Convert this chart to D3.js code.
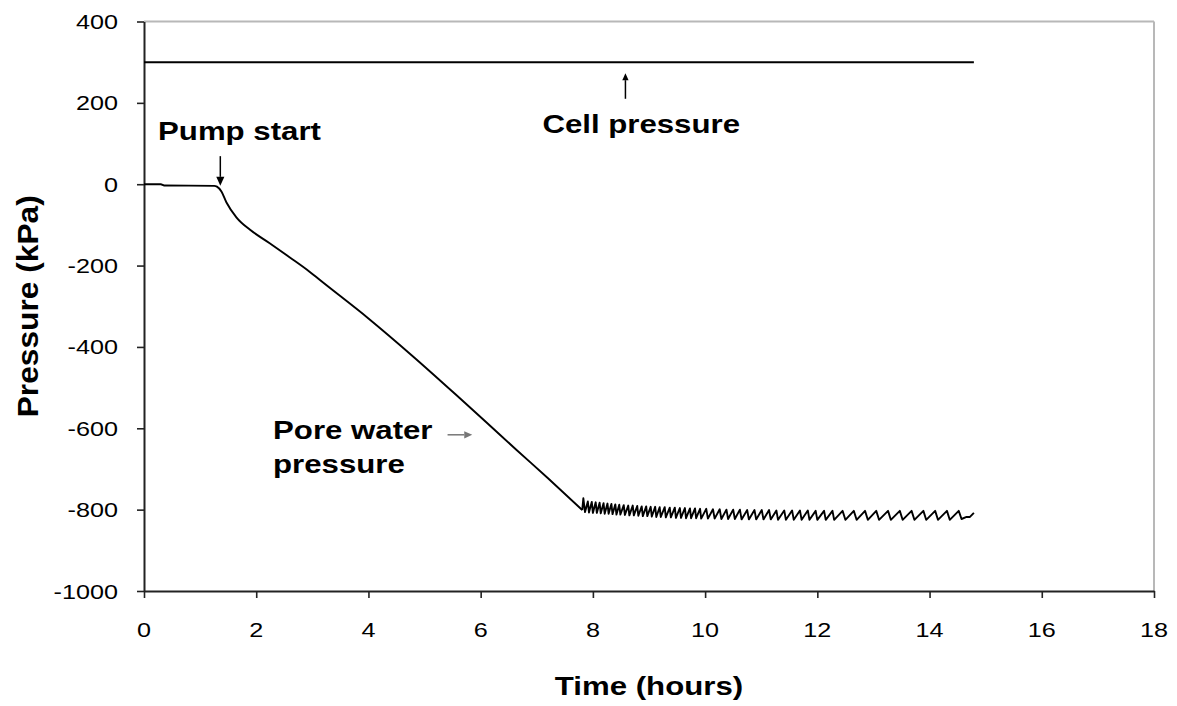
<!DOCTYPE html>
<html><head><meta charset="utf-8">
<script src="https://cdn.jsdelivr.net/npm/d3@7"></script>
<style>
body{margin:0;background:#fff}
text{font-family:"Liberation Sans",Arial,sans-serif;fill:#000}
</style>
</head><body>
<svg id="c" width="1177" height="706"></svg>
<script>
// ---------- data ----------
const xTicks = [0,2,4,6,8,10,12,14,16,18];
const yTicks = [-1000,-800,-600,-400,-200,0,200,400];

const cellTime = [0, 14.79];
const cellPressure = [300, 300];

// pore water pressure: initial ramp after pump start
const rampTime = [0, 0.3, 0.36, 1.25, 1.3, 1.38, 1.47, 1.65, 1.89, 2.24, 2.6, 2.95, 3.13, 4.0, 4.8, 5.62, 6.1, 6.63, 7.2, 7.81];
const rampPressure = [0, 0, -3, -4, -6, -18, -45, -82, -112, -145, -180, -215, -235, -330, -424, -525, -585, -652, -723, -801];

// pore water pressure: pump-controlled oscillation around -810 kPa
const sawTime = [
 7.81,7.83,7.86,7.91,7.93,7.98,8.00,8.05,8.07,8.12,8.14,8.19,8.21,8.26,8.28,8.33,8.35,8.40,8.42,8.47,8.49,
 8.55,8.57,8.63,8.65,8.71,8.73,8.79,8.81,8.87,8.89,8.95,8.97,9.03,9.05,9.11,9.13,9.19,9.21,9.28,9.30,
 9.37,9.39,9.46,9.48,9.55,9.57,9.64,9.66,9.73,9.75,9.82,9.84,9.91,9.93,
 10.02,10.05,10.14,10.17,10.26,10.29,10.38,10.41,10.50,10.53,10.62,10.65,10.75,10.78,10.88,10.91,
 11.01,11.04,11.14,11.17,11.27,11.30,11.41,11.44,11.55,11.58,11.69,11.72,11.83,11.86,11.97,12.00,
 12.12,12.15,12.27,12.30,
 12.45,12.50,12.65,12.70,12.85,12.90,13.05,13.10,13.26,13.31,13.47,13.52,13.68,13.73,13.89,13.94,
 14.10,14.15,14.31,14.36,14.52,14.57,14.66,14.72,14.79];
const sawPressure = [
 -801,-772,-806,-780,-807,-781,-808,-782,-808,-783,-809,-784,-810,-785,-810,-786,-811,-787,-812,-788,-812,
 -789,-813,-790,-814,-790,-814,-791,-815,-792,-816,-792,-816,-793,-817,-793,-818,-794,-818,-794,-819,
 -795,-819,-795,-820,-796,-820,-796,-821,-797,-821,-797,-821,-798,-822,
 -798,-822,-799,-822,-799,-823,-800,-823,-800,-823,-800,-824,-801,-824,-801,-824,
 -801,-824,-801,-824,-802,-825,-802,-825,-802,-825,-802,-825,-802,-825,-803,-825,
 -803,-825,-803,-825,
 -803,-825,-803,-825,-803,-825,-803,-825,-803,-825,-803,-825,-803,-825,-803,-825,
 -803,-825,-803,-825,-803,-823,-818,-818,-808];

// annotations (data coordinates)
const labels = [
  {text:"Pump start",   t:0.25, p:109},
  {text:"Cell pressure",t:7.10, p:126},
  {text:"Pore water",   t:2.30, p:-626},
  {text:"pressure",     t:2.30, p:-709}
];
const arrows = [
  {t1:1.36, p1:69,   t2:1.36, p2:-4,   color:"#000", head:9},
  {t1:8.58, p1:210,  t2:8.58, p2:273,  color:"#000", head:7},
  {t1:5.41, p1:-616, t2:5.85, p2:-616, color:"#777", head:8}
];

// ---------- chart ----------
const svg = d3.select("#c");
const x = d3.scaleLinear().domain([0,18]).range([144,1154]);
const y = d3.scaleLinear().domain([-1000,400]).range([591,21.5]);
const SX = 1.2; // horizontal text stretch of the original

// frame: grey top/right
svg.append("line").attr("x1",x(0)).attr("x2",x(18)).attr("y1",y(400)).attr("y2",y(400))
  .attr("stroke","#b8b8b8").attr("stroke-width",2);
svg.append("line").attr("x1",x(18)).attr("x2",x(18)).attr("y1",y(400)).attr("y2",y(-1000))
  .attr("stroke","#b8b8b8").attr("stroke-width",2);

// axes
const gx = svg.append("g").attr("transform",`translate(0,${y(-1000)})`)
  .call(d3.axisBottom(x).tickValues(xTicks).tickSize(7).tickSizeOuter(0).tickFormat(""));
const gy = svg.append("g").attr("transform",`translate(${x(0)},0)`)
  .call(d3.axisLeft(y).tickValues(yTicks).tickSize(7).tickSizeOuter(0).tickFormat(""));
[gx,gy].forEach(g=>{
  g.select(".domain").attr("stroke","#222").attr("stroke-width",2);
  g.selectAll(".tick line").attr("stroke","#222").attr("stroke-width",1.6);
});

// tick labels
svg.selectAll(".xl").data(xTicks).enter().append("text")
  .attr("transform",d=>`translate(${x(d)},637) scale(${SX},1)`)
  .attr("text-anchor","middle").style("font-size","21px").text(d=>d);
svg.selectAll(".yl").data(yTicks).enter().append("text")
  .attr("transform",d=>`translate(118,${y(d)+7.5}) scale(${SX},1)`)
  .attr("text-anchor","end").style("font-size","21px").text(d=>d);

// axis titles
svg.append("text").attr("transform",`translate(${(x(0)+x(18))/2},695) scale(${SX},1)`)
  .attr("text-anchor","middle").style("font-size","26px").style("font-weight","bold")
  .text("Time (hours)");
svg.append("text").attr("transform",`translate(38,${(y(400)+y(-1000))/2}) rotate(-90) scale(1.22,1.15)`)
  .attr("text-anchor","middle").style("font-size","26px").style("font-weight","bold")
  .text("Pressure (kPa)");

// series
const cell = d3.zip(cellTime, cellPressure);
const ramp = d3.zip(rampTime, rampPressure);
const saw = d3.zip(sawTime, sawPressure);
const lineLin = d3.line().x(d=>x(d[0])).y(d=>y(d[1]));
const lineSmooth = d3.line().x(d=>x(d[0])).y(d=>y(d[1])).curve(d3.curveMonotoneX);
svg.append("path").datum(cell).attr("d",lineLin).attr("fill","none")
  .attr("stroke","#000").attr("stroke-width",2);
svg.append("path").datum(ramp).attr("d",lineSmooth).attr("fill","none")
  .attr("stroke","#000").attr("stroke-width",1.9).attr("stroke-linejoin","round");
svg.append("path").datum(saw).attr("d",lineLin).attr("fill","none")
  .attr("stroke","#000").attr("stroke-width",1.9).attr("stroke-linejoin","round");

// annotations
labels.forEach(l=>{
  svg.append("text").attr("transform",`translate(${x(l.t)},${y(l.p)}) scale(${SX},1)`)
    .style("font-size","26px").style("font-weight","bold").text(l.text);
});
arrows.forEach(a=>{
  const x1=x(a.t1), y1=y(a.p1), x2=x(a.t2), y2=y(a.p2);
  const ang=Math.atan2(y2-y1,x2-x1), h=a.head, w=h*0.45;
  const bx=x2-h*Math.cos(ang), by=y2-h*Math.sin(ang);
  svg.append("line").attr("x1",x1).attr("y1",y1).attr("x2",bx).attr("y2",by)
    .attr("stroke",a.color).attr("stroke-width",1.5);
  svg.append("path").attr("d",`M${x2},${y2}L${bx-w*Math.sin(ang)},${by+w*Math.cos(ang)}L${bx+w*Math.sin(ang)},${by-w*Math.cos(ang)}Z`)
    .attr("fill",a.color);
});
</script>
</body></html>
